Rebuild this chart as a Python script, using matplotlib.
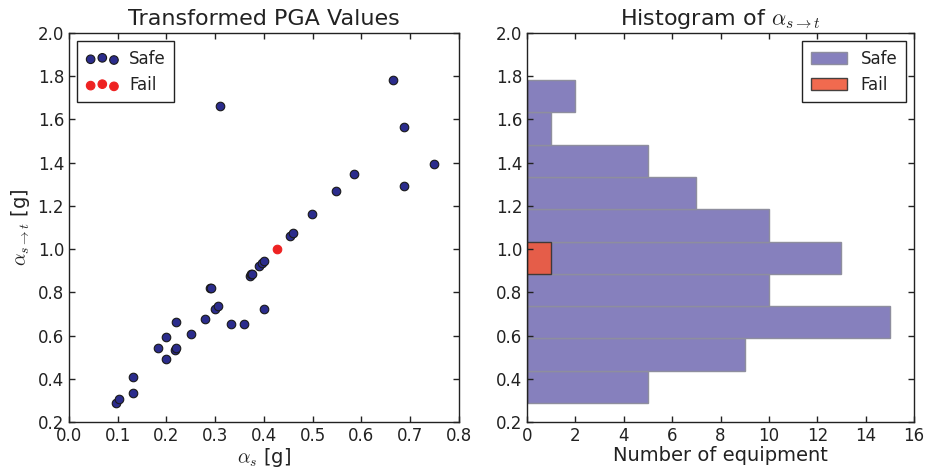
import numpy as np
import matplotlib
matplotlib.use("Agg")
import matplotlib.pyplot as plt

# scatter data (visible points)
safe_x = [0.096, 0.103, 0.131, 0.131, 0.182, 0.200, 0.200, 0.217, 0.220, 0.220,
          0.250, 0.280, 0.290, 0.292, 0.300, 0.306, 0.310, 0.333, 0.359, 0.371,
          0.373, 0.375, 0.390, 0.395, 0.400, 0.400, 0.453, 0.459, 0.499, 0.548,
          0.585, 0.665, 0.688, 0.688, 0.748]
safe_y = [0.288, 0.308, 0.410, 0.333, 0.541, 0.592, 0.493, 0.533, 0.541, 0.664,
          0.609, 0.677, 0.820, 0.822, 0.722, 0.736, 1.664, 0.655, 0.654, 0.877,
          0.884, 0.885, 0.924, 0.936, 0.944, 0.722, 1.062, 1.076, 1.162, 1.268,
          1.347, 1.782, 1.567, 1.293, 1.396]
fail_x = [0.426]
fail_y = [1.002]

# histogram counts per bin (10 equal bins between min and max of alpha_s->t)
safe_counts = [5, 9, 15, 10, 13, 10, 7, 5, 1, 2]
fail_counts = [0, 0, 0, 0, 1, 0, 0, 0, 0, 0]

plt.rcParams['font.family'] = 'DejaVu Sans'
plt.rcParams['mathtext.fontset'] = 'cm'
plt.rcParams['text.color'] = '#222222'
plt.rcParams['axes.labelcolor'] = '#222222'
plt.rcParams['xtick.color'] = '#222222'
plt.rcParams['ytick.color'] = '#222222'

fig = plt.figure(figsize=(9.27, 4.7), dpi=100)
ax1 = fig.add_axes([0.0744, 0.1021, 0.4207, 0.8277])
ax2 = fig.add_axes([0.5685, 0.1021, 0.4175, 0.8277])

for ax in (ax1, ax2):
    ax.tick_params(direction='in', top=True, right=True, length=4, width=1,
                   labelsize=12)
    for sp in ax.spines.values():
        sp.set_color('#222222')
        sp.set_linewidth(1)

# left: scatter
ax1.scatter(safe_x, safe_y, s=38, c='#2B2C8C', edgecolors='#1a1a1a',
            linewidths=0.8, label='Safe', zorder=3)
ax1.scatter(fail_x, fail_y, s=38, c='#EE2222', edgecolors='#EE2222',
            linewidths=0.8, label='Fail', zorder=3)
ax1.set_xlim(0, 0.8)
ax1.set_ylim(0.2, 2.0)
ax1.set_xticks(np.arange(0, 0.81, 0.1))
ax1.set_yticks(np.arange(0.2, 2.01, 0.2))
ax1.set_xlabel(r'$\alpha_s$ [g]', fontsize=14, labelpad=1)
ax1.set_ylabel(r'$\alpha_{s\rightarrow t}$ [g]', fontsize=14)
ax1.set_title('Transformed PGA Values', fontsize=16)
leg1 = ax1.legend(loc='upper left', scatterpoints=3, fontsize=12,
                  fancybox=False, framealpha=1, edgecolor='#222222',
                  handletextpad=0.6, borderpad=0.5)
leg1.get_frame().set_linewidth(1)

# right: horizontal histogram
all_y = safe_y + fail_y
edges = np.linspace(min(all_y), max(all_y), len(safe_counts) + 1)
height = edges[1] - edges[0]
ax2.barh(edges[:-1], safe_counts, height=height, align='edge',
         color='#8680BD', edgecolor='#8e8e9e', linewidth=1, label='Safe')
ax2.barh(edges[:-1], fail_counts, height=height, align='edge',
         color='#F05A3C', alpha=0.9, edgecolor='#333333', linewidth=1,
         label='Fail')
ax2.set_xlim(0, 16)
ax2.set_ylim(0.2, 2.0)
ax2.set_xticks(np.arange(0, 17, 2))
ax2.set_yticks(np.arange(0.2, 2.01, 0.2))
ax2.set_xlabel('Number of equipment', fontsize=14, labelpad=1)
ax2.set_title(r'Histogram of $\alpha_{s\rightarrow t}$', fontsize=16)
leg2 = ax2.legend(loc='upper right', fontsize=12, fancybox=False,
                  framealpha=1, edgecolor='#222222', handlelength=2.2,
                  borderpad=0.5)
leg2.get_frame().set_linewidth(1)

fig.savefig('out.png', dpi=100)
